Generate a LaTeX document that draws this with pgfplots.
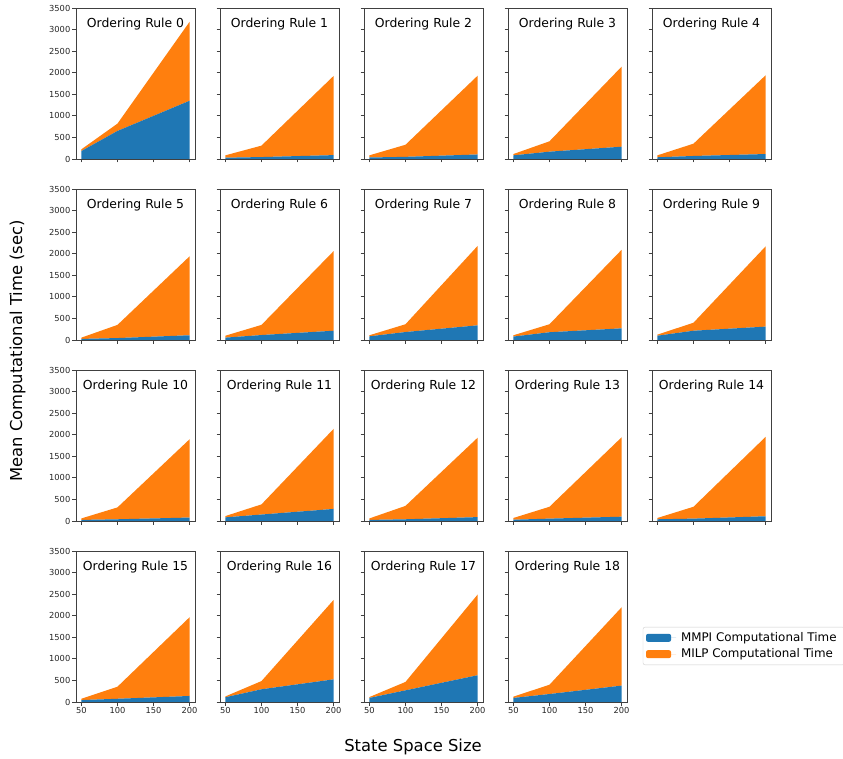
\documentclass[border=0pt]{standalone}
\usepackage{fontspec}
\setmainfont{DejaVu Sans}
\usepackage{pgfplots}
\pgfplotsset{compat=1.18}
\definecolor{mmpi}{HTML}{1F77B4}
\definecolor{milp}{HTML}{FF7F0E}
\pgfplotsset{
  panel/.style={
    scale only axis, width=119pt, height=151pt, anchor=north west,
    xmin=42.5, xmax=207.5, ymin=0, ymax=3500,
    xtick={50,100,150,200}, ytick={0,500,1000,1500,2000,2500,3000,3500},
    xticklabels={}, yticklabels={},
    stack plots=y,
    axis on top,
    axis line style={black!75, line width=0.8pt},
    tick style={black!75, line width=0.8pt},
    tick align=outside, major tick length=3.5pt,
    xtick pos=left, ytick pos=left,
    tick label style={font=\fontsize{8.3}{9.5}\selectfont, text=black!85},
    xticklabel style={inner sep=2pt},
    yticklabel style={inner sep=2pt},
  },
  xlab/.style={xticklabels={50,100,150,200}},
  ylab/.style={yticklabels={0,500,1000,1500,2000,2500,3000,3500}},
}
\newcommand{\panel}[6]{%
  \begin{axis}[panel, at={(#1pt,-#2pt)}, #6]
    \addplot[draw=none, fill=mmpi] coordinates {#4} \closedcycle;
    \addplot[draw=none, fill=milp] coordinates {#5} \closedcycle;
    \node[anchor=base, font=\fontsize{12.4}{14}\selectfont] at (rel axis cs:0.5,0.869) {Ordering Rule #3};
  \end{axis}}
\begin{document}
\begin{tikzpicture}
\useasboundingbox (0,0) rectangle (843pt,-759pt);
% row 1
\panel{76}{8}{0}{(50,185) (100,650) (200,1350)}{(50,40) (100,170) (200,1830)}{ylab}
\panel{220}{8}{1}{(50,30) (100,45) (200,90)}{(50,55) (100,265) (200,1835)}{}
\panel{364}{8}{2}{(50,35) (100,50) (200,105)}{(50,50) (100,280) (200,1825)}{}
\panel{508}{8}{3}{(50,85) (100,170) (200,285)}{(50,30) (100,240) (200,1855)}{}
\panel{652}{8}{4}{(50,40) (100,70) (200,115)}{(50,45) (100,285) (200,1825)}{}
% row 2
\panel{76}{189}{5}{(50,25) (100,45) (200,110)}{(50,30) (100,305) (200,1830)}{ylab}
\panel{220}{189}{6}{(50,55) (100,115) (200,215)}{(50,45) (100,235) (200,1845)}{}
\panel{364}{189}{7}{(50,85) (100,185) (200,340)}{(50,25) (100,180) (200,1840)}{}
\panel{508}{189}{8}{(50,80) (100,180) (200,270)}{(50,30) (100,185) (200,1820)}{}
\panel{652}{189}{9}{(50,100) (100,215) (200,310)}{(50,25) (100,185) (200,1860)}{}
% row 3
\panel{76}{370}{10}{(50,25) (100,40) (200,80)}{(50,35) (100,275) (200,1815)}{ylab}
\panel{220}{370}{11}{(50,85) (100,150) (200,280)}{(50,30) (100,235) (200,1855)}{}
\panel{364}{370}{12}{(50,25) (100,40) (200,90)}{(50,35) (100,310) (200,1840)}{}
\panel{508}{370}{13}{(50,30) (100,55) (200,100)}{(50,40) (100,275) (200,1840)}{}
\panel{652}{370}{14}{(50,40) (100,55) (200,110)}{(50,30) (100,275) (200,1840)}{}
% row 4
\panel{76}{551}{15}{(50,45) (100,75) (200,140)}{(50,30) (100,280) (200,1825)}{ylab,xlab}
\panel{220}{551}{16}{(50,110) (100,295) (200,525)}{(50,20) (100,190) (200,1840)}{xlab}
\panel{364}{551}{17}{(50,95) (100,270) (200,620)}{(50,20) (100,195) (200,1870)}{xlab}
\begin{axis}[panel, at={(508pt,-551pt)}, xlab,
  legend cell align=left,
  legend image code/.code={\path (0pt,0pt) -- (30pt,0pt); \fill[#1] (0pt,-4pt) rectangle (25pt,4pt);},
  legend style={at={(1.133,0.497)}, anchor=north west, draw=black!20,
    rounded corners=2pt, font=\fontsize{11.9}{14}\selectfont,
    inner xsep=3pt, inner ysep=2.5pt, row sep=0pt,
    nodes={inner xsep=5pt, inner ysep=2.9pt}},
  ]
  \addplot[draw=none, fill=mmpi] coordinates {(50,95) (100,185) (200,380)} \closedcycle;
  \addlegendentry{MMPI Computational Time}
  \addplot[draw=none, fill=milp] coordinates {(50,30) (100,215) (200,1815)} \closedcycle;
  \addlegendentry{MILP Computational Time}
  \node[anchor=base, font=\fontsize{12.4}{14}\selectfont] at (rel axis cs:0.5,0.869) {Ordering Rule 18};
\end{axis}
\node[font=\fontsize{16.4}{19}\selectfont, rotate=90] at (17.5pt,-351pt) {Mean Computational Time (sec)};
\node[font=\fontsize{16.4}{19}\selectfont] at (413pt,-747pt) {State Space Size};
\end{tikzpicture}
\end{document}
